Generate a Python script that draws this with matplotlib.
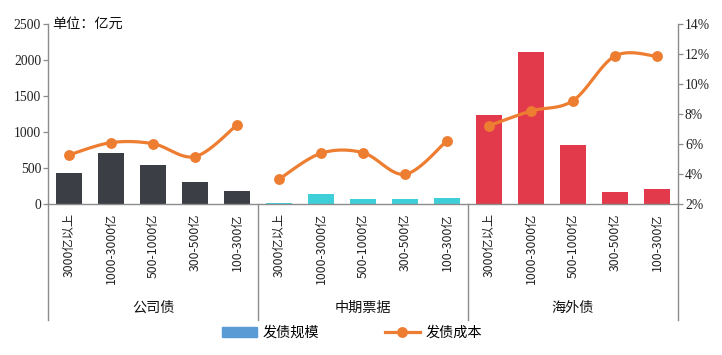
import numpy as np
import matplotlib
matplotlib.use("Agg")
import matplotlib.pyplot as plt
from matplotlib.patches import Patch
from matplotlib.lines import Line2D
from matplotlib.transforms import blended_transform_factory

# ---------------- data ----------------
groups = ['公司债', '中期票据', '海外债']
sizes = ['3000亿以上', '1000-3000亿', '500-1000亿', '300-500亿', '100-300亿']
corp_scale = [430, 705, 542, 305, 180]
mtn_scale = [18, 140, 74, 72, 86]
overseas_scale = [1236, 2105, 820, 165, 205]
corp_cost = [5.27, 6.09, 6.02, 5.16, 7.27]
mtn_cost = [3.65, 5.38, 5.42, 3.98, 6.22]
overseas_cost = [7.22, 8.20, 8.89, 11.87, 11.85]
left_ticks = [0, 500, 1000, 1500, 2000, 2500]
right_ticks = [2, 4, 6, 8, 10, 12, 14]
unit_text = '单位：亿元'
legend_labels = ['发债规模', '发债成本']

scales = [corp_scale, mtn_scale, overseas_scale]
costs = [corp_cost, mtn_cost, overseas_cost]
bar_colors = ['#3b3e45', '#3fcfd8', '#e23a4b']
line_color = '#ed7d31'
legend_patch_color = '#5b9bd5'
grid_gray = '#8c8c8c'

CJK = ['Noto Sans CJK SC', 'DejaVu Sans']
SERIF = ['Liberation Serif', 'DejaVu Serif']


def catmull_rom(x, y, n=20):
    x = np.asarray(x, float)
    y = np.asarray(y, float)
    P = np.column_stack([x, y])
    P = np.vstack([P[0], P, P[-1]])
    out = []
    for i in range(1, len(P) - 2):
        p0, p1, p2, p3 = P[i - 1], P[i], P[i + 1], P[i + 2]
        c1 = p1 + (p2 - p0) / 6.0
        c2 = p2 - (p3 - p1) / 6.0
        t = np.linspace(0, 1, n)[:, None]
        seg = ((1 - t) ** 3) * p1 + 3 * ((1 - t) ** 2) * t * c1 + 3 * (1 - t) * t ** 2 * c2 + t ** 3 * p2
        out.append(seg if i == 1 else seg[1:])
    s = np.vstack(out)
    return s[:, 0], s[:, 1]


fig = plt.figure(figsize=(7.22, 3.55), dpi=100)
W, H = 722, 355
ax = fig.add_axes([48 / W, 1 - 204 / H, 630 / W, 180 / H])
ax2 = ax.twinx()

n = len(sizes)
all_labels = []
for g in range(len(groups)):
    xs = np.arange(n) + g * n
    ax.bar(xs, scales[g], width=0.6, color=bar_colors[g], zorder=2)
    ax2.plot(*catmull_rom(xs, costs[g]), color=line_color, lw=2.3, solid_capstyle='round', zorder=3)
    ax2.plot(xs, costs[g], 'o', color=line_color, ms=6.8, zorder=4)
    all_labels += sizes

N = n * len(groups)
ax.set_xlim(-0.5, N - 0.5)
ax.set_ylim(0, 2500)
ax2.set_ylim(2, 14)
ax.set_yticks(left_ticks)
ax.set_yticklabels([str(v) for v in left_ticks], family=SERIF, fontsize=9.8, color='#222')
ax2.set_yticks(right_ticks)
ax2.set_yticklabels(['%d%%' % v for v in right_ticks], family=SERIF, fontsize=9.8, color='#222')
ax.set_xticks(np.arange(N))
ax.set_xticklabels(all_labels, rotation=90, family=CJK, fontsize=8.8, color='#222', va='top', ha='center')
ax.tick_params(axis='x', length=0, pad=6.5)
ax.tick_params(axis='y', length=3.5, color=grid_gray, width=0.9, pad=1.5)
ax2.tick_params(axis='y', length=3.5, color=grid_gray, width=0.9, pad=1.5)

for a in (ax, ax2):
    a.spines['top'].set_visible(False)
    for s in ('left', 'right', 'bottom'):
        a.spines[s].set_color(grid_gray)
        a.spines[s].set_linewidth(1.0)
ax.spines['right'].set_visible(False)
ax2.spines['left'].set_visible(False)
ax2.spines['bottom'].set_visible(False)

trans = blended_transform_factory(ax.transData, ax.transAxes)
for b in range(len(groups) + 1):
    xb = b * n - 0.5
    ax.plot([xb, xb], [0, -(320 - 204) / 180], transform=trans, color=grid_gray, lw=1.0, clip_on=False)
for g, name in enumerate(groups):
    ax.text(g * n + (n - 1) / 2, -(308 - 204) / 180, name, transform=trans, ha='center', va='center',
            family=CJK, fontsize=10.2, color='#111')

ax.text(4 / 630, 1.0, unit_text, transform=ax.transAxes, ha='left', va='center', family=CJK, fontsize=10.2, color='#111')

handles = [Patch(color=legend_patch_color),
           Line2D([0], [0], color=line_color, lw=2.3, marker='o', ms=6.8)]
fig.legend(handles, legend_labels, ncol=2, loc='center', bbox_to_anchor=(352 / W, 1 - 333 / H), frameon=False,
           prop={'family': CJK, 'size': 10.2}, handlelength=2.5, handletextpad=0.4, columnspacing=4.6)

fig.savefig('out.png', dpi=100, facecolor='white')
